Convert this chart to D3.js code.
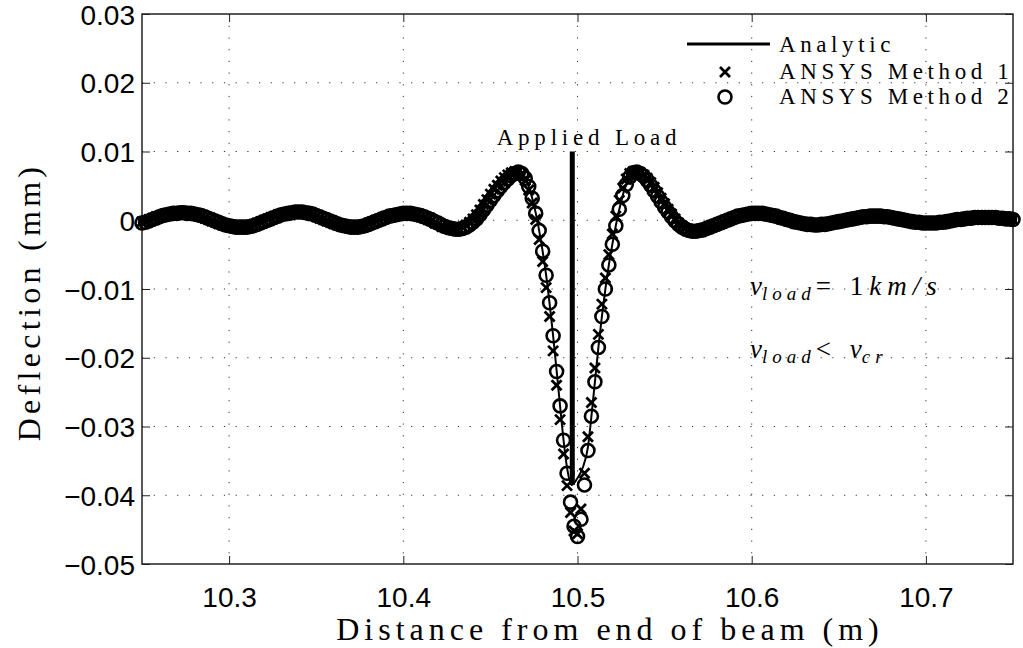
<!DOCTYPE html>
<html>
<head>
<meta charset="utf-8">
<script src="https://cdn.jsdelivr.net/npm/d3@7"></script>
<style>
  body { margin: 0; background: #fff; }
</style>
</head>
<body>
<div id="chart"></div>
<script>
// deflection samples, in micrometres (1e-3 mm), one every 2 mm along the beam
const sampleStart = 10.25;
const sampleStep = 0.002;

const method1 = [
  -0.2, -0.1, 0.1, 0.3, 0.5, 0.6, 0.8, 0.9, 1.0, 1.1,
  1.1, 1.1, 1.1, 1.0, 0.9, 0.8, 0.7, 0.5, 0.3, 0.1,
  -0.1, -0.3, -0.5, -0.7, -0.8, -0.9, -1.0, -1.0, -1.0, -0.9,
  -0.9, -0.8, -0.6, -0.4, -0.2, 0.0, 0.2, 0.4, 0.6, 0.8,
  0.9, 1.0, 1.1, 1.2, 1.2, 1.2, 1.1, 1.0, 0.9, 0.7,
  0.5, 0.3, 0.1, -0.1, -0.3, -0.5, -0.7, -0.8, -0.9, -1.0,
  -1.0, -1.0, -0.9, -0.8, -0.6, -0.4, -0.2, 0.0, 0.2, 0.4,
  0.6, 0.7, 0.8, 0.9, 1.0, 1.0, 1.0, 0.9, 0.8, 0.7,
  0.5, 0.3, 0.1, -0.1, -0.4, -0.6, -0.9, -1.1, -1.2, -1.3,
  -1.3, -1.2, -1.0, -0.7, -0.3, 0.2, 0.8, 1.5, 2.3, 3.0,
  3.8, 4.5, 5.1, 5.7, 6.2, 6.6, 6.9, 7.1, 7.1, 6.7,
  5.8, 4.4, 2.5, 0.1, -2.8, -6.0, -9.8, -14.0, -19.0, -24.0,
  -29.0, -34.0, -38.6, -42.5, -45.2, -45.6, -42.0, -36.8, -31.5, -26.5,
  -21.5, -16.6, -12.2, -8.4, -5.0, -2.0, 0.6, 2.9, 4.7, 6.0,
  6.8, 7.1, 7.1, 6.9, 6.6, 6.1, 5.5, 4.8, 4.0, 3.2,
  2.4, 1.6, 0.9, 0.2, -0.4, -0.8, -1.2, -1.4, -1.5, -1.6,
  -1.5, -1.4, -1.3, -1.1, -0.9, -0.7, -0.5, -0.3, -0.1, 0.1,
  0.3, 0.5, 0.6, 0.8, 0.9, 0.9, 1.0, 1.0, 0.9, 0.9,
  0.8, 0.6, 0.5, 0.4, 0.2, 0.1, -0.1, -0.2, -0.3, -0.4,
  -0.5, -0.6, -0.6, -0.7, -0.6, -0.6, -0.5, -0.5, -0.4, -0.3,
  -0.2, -0.1, 0.0, 0.1, 0.2, 0.3, 0.4, 0.4, 0.5, 0.5,
  0.6, 0.6, 0.5, 0.5, 0.4, 0.4, 0.3, 0.2, 0.1, 0.0,
  -0.1, -0.2, -0.2, -0.3, -0.3, -0.4, -0.4, -0.3, -0.3, -0.3,
  -0.2, -0.1, -0.1, 0.0, 0.1, 0.2, 0.2, 0.3, 0.3, 0.3,
  0.4, 0.4, 0.4, 0.4, 0.4, 0.3, 0.3, 0.3, 0.2, 0.2,
  0.1
];

const method2 = [
  -0.4, -0.3, -0.1, 0.1, 0.3, 0.5, 0.7, 0.8, 0.9, 1.0,
  1.0, 1.1, 1.1, 1.0, 1.0, 0.9, 0.8, 0.7, 0.5, 0.3,
  0.1, -0.1, -0.3, -0.5, -0.7, -0.8, -0.9, -1.0, -1.0, -1.0,
  -1.0, -0.9, -0.8, -0.6, -0.4, -0.2, 0.0, 0.2, 0.4, 0.6,
  0.8, 0.9, 1.0, 1.1, 1.2, 1.2, 1.2, 1.1, 1.0, 0.9,
  0.7, 0.5, 0.3, 0.1, -0.1, -0.3, -0.5, -0.7, -0.8, -0.9,
  -1.0, -1.0, -1.0, -0.9, -0.8, -0.6, -0.4, -0.2, 0.0, 0.2,
  0.4, 0.6, 0.7, 0.8, 0.9, 1.0, 1.0, 1.0, 0.9, 0.8,
  0.7, 0.5, 0.3, 0.1, -0.2, -0.4, -0.7, -0.9, -1.1, -1.2,
  -1.3, -1.3, -1.2, -1.0, -0.7, -0.3, 0.2, 0.8, 1.5, 2.2,
  2.9, 3.6, 4.3, 4.9, 5.5, 6.0, 6.5, 6.8, 7.0, 6.8,
  6.1, 4.9, 3.2, 1.0, -1.5, -4.5, -8.0, -12.0, -16.8, -22.0,
  -27.0, -32.0, -36.8, -41.0, -44.5, -46.0, -43.5, -38.5, -33.5, -28.5,
  -23.5, -18.5, -14.0, -10.0, -6.5, -3.5, -0.8, 1.6, 3.6, 5.2,
  6.3, 6.9, 7.0, 6.8, 6.4, 5.8, 5.1, 4.3, 3.5, 2.7,
  1.9, 1.2, 0.5, -0.1, -0.6, -1.0, -1.3, -1.5, -1.6, -1.6,
  -1.5, -1.4, -1.2, -1.0, -0.8, -0.6, -0.4, -0.2, 0.0, 0.2,
  0.4, 0.6, 0.7, 0.8, 0.9, 1.0, 1.0, 1.0, 1.0, 0.9,
  0.8, 0.7, 0.6, 0.4, 0.3, 0.1, 0.0, -0.2, -0.3, -0.4,
  -0.5, -0.6, -0.6, -0.7, -0.7, -0.6, -0.6, -0.5, -0.4, -0.3,
  -0.2, -0.1, 0.0, 0.1, 0.2, 0.3, 0.4, 0.5, 0.5, 0.6,
  0.6, 0.6, 0.6, 0.5, 0.5, 0.4, 0.3, 0.2, 0.1, 0.0,
  -0.1, -0.2, -0.3, -0.3, -0.4, -0.4, -0.4, -0.4, -0.4, -0.3,
  -0.3, -0.2, -0.1, 0.0, 0.1, 0.1, 0.2, 0.3, 0.3, 0.4,
  0.4, 0.4, 0.4, 0.4, 0.4, 0.4, 0.3, 0.3, 0.2, 0.2,
  0.1
];

// analytic solution (m, micrometres)
const analyticX = [10.25, 10.26, 10.27, 10.28, 10.29, 10.30, 10.31, 10.32, 10.33, 10.34,
  10.35, 10.36, 10.37, 10.38, 10.39, 10.40, 10.41, 10.42, 10.43, 10.435,
  10.44, 10.445, 10.45, 10.455, 10.46, 10.466, 10.47, 10.474, 10.478, 10.482,
  10.486, 10.49, 10.492, 10.494, 10.4967, 10.50, 10.503, 10.506, 10.508, 10.51,
  10.512, 10.514, 10.516, 10.518, 10.52, 10.524, 10.528, 10.534, 10.54, 10.545,
  10.55, 10.56, 10.568, 10.58, 10.59, 10.60, 10.61, 10.62, 10.63, 10.64,
  10.65, 10.66, 10.67, 10.68, 10.69, 10.70, 10.71, 10.72, 10.73, 10.74, 10.75];
const analyticY = [-0.4, 0.5, 1.0, 0.9, 0.1, -0.8, -1.0, -0.2, 0.8, 1.2,
  0.7, -0.3, -1.0, -0.6, 0.4, 1.0, 0.7, -0.4, -1.3, -1.1,
  -0.3, 1.2, 2.9, 4.6, 6.0, 7.0, 6.1, 3.2, -1.5, -8.0,
  -16.8, -27.0, -32.0, -36.0, -38.5, -37.5, -36.0, -33.0, -28.5, -23.5,
  -18.5, -14.0, -10.0, -6.5, -3.5, 1.6, 5.2, 7.0, 5.8, 3.9,
  1.9, -1.0, -1.6, -0.6, 0.4, 1.0, 0.8, 0.1, -0.5, -0.65,
  -0.2, 0.3, 0.6, 0.4, -0.1, -0.4, -0.3, 0.1, 0.4, 0.4, 0.1];

const xTicks = [10.3, 10.4, 10.5, 10.6, 10.7];
const xTickLabels = ["10.3", "10.4", "10.5", "10.6", "10.7"];
const yTicks = [30, 20, 10, 0, -10, -20, -30, -40, -50];
const yTickLabels = ["0.03", "0.02", "0.01", "0", "\u22120.01", "\u22120.02", "\u22120.03", "\u22120.04", "\u22120.05"];

const loadPosition = 10.497;
const loadTop = 10;
const loadBottom = -38.5;

const legendLabels = ["Analytic", "ANSYS Method 1", "ANSYS Method 2"];

const W = 1023, H = 648;
const margin = {top: 14, right: 10, bottom: 84, left: 142};
const serif = "'Liberation Serif', 'DejaVu Serif', 'Times New Roman', serif";
const sans = "'Liberation Sans', Arial, sans-serif";

const svg = d3.select("#chart").append("svg")
    .attr("width", W)
    .attr("height", H);

const x = d3.scaleLinear().domain([10.25, 10.75]).range([margin.left, W - margin.right]);
const y = d3.scaleLinear().domain([-50, 30]).range([H - margin.bottom, margin.top]);

const x0 = x.range()[0], x1 = x.range()[1];
const y0 = y.range()[0], y1 = y.range()[1];

// dotted grid
const grid = svg.append("g")
    .attr("stroke", "#333")
    .attr("stroke-width", 1)
    .attr("stroke-dasharray", "1.2,10.5");

grid.selectAll("line.vg")
    .data(xTicks)
    .enter()
    .append("line")
    .attr("class", "vg")
    .attr("x1", d => x(d)).attr("x2", d => x(d))
    .attr("y1", y1).attr("y2", y0);

grid.selectAll("line.hg")
    .data(yTicks.slice(1, -1))
    .enter()
    .append("line")
    .attr("class", "hg")
    .attr("x1", x0).attr("x2", x1)
    .attr("y1", d => y(d)).attr("y2", d => y(d));

// axes, ticks pointing inward on all four sides
const tickLen = 8;
svg.append("g")
    .attr("transform", `translate(0,${y0})`)
    .call(d3.axisBottom(x).tickValues(xTicks).tickSizeInner(-tickLen).tickSizeOuter(0).tickFormat((d, i) => xTickLabels[i]))
    .call(g => g.select(".domain").remove())
    .call(g => g.selectAll("text")
        .attr("font-family", sans).attr("font-size", 28).attr("fill", "#000")
        .attr("y", 43).attr("dy", null));

svg.append("g")
    .attr("transform", `translate(0,${y1})`)
    .call(d3.axisTop(x).tickValues(xTicks).tickSizeInner(-tickLen).tickSizeOuter(0).tickFormat(""))
    .call(g => g.select(".domain").remove());

svg.append("g")
    .attr("transform", `translate(${x0},0)`)
    .call(d3.axisLeft(y).tickValues(yTicks).tickSizeInner(-tickLen).tickSizeOuter(0).tickFormat((d, i) => yTickLabels[i]))
    .call(g => g.select(".domain").remove())
    .call(g => g.selectAll("text")
        .attr("font-family", sans).attr("font-size", 28).attr("fill", "#000")
        .attr("x", -7).attr("dy", "0.36em"));

svg.append("g")
    .attr("transform", `translate(${x1},0)`)
    .call(d3.axisRight(y).tickValues(yTicks).tickSizeInner(-tickLen).tickSizeOuter(0).tickFormat(""))
    .call(g => g.select(".domain").remove());

svg.selectAll(".tick line").attr("stroke", "#222").attr("stroke-width", 1);

svg.append("rect")
    .attr("x", x0).attr("y", y1)
    .attr("width", x1 - x0).attr("height", y0 - y1)
    .attr("fill", "none")
    .attr("stroke", "#222")
    .attr("stroke-width", 1.5);

// plot layers
const plot = svg.append("g");

const analytic = analyticX.map((d, i) => [d, analyticY[i]]);
plot.append("path")
    .datum(analytic)
    .attr("fill", "none")
    .attr("stroke", "#000")
    .attr("stroke-width", 2)
    .attr("d", d3.line().x(d => x(d[0])).y(d => y(d[1])).curve(d3.curveMonotoneX));

const crossPath = "M-5,-5L5,5M-5,5L5,-5";

plot.selectAll("path.m1")
    .data(method1)
    .enter()
    .append("path")
    .attr("class", "m1")
    .attr("d", crossPath)
    .attr("transform", (d, i) => `translate(${x(sampleStart + i * sampleStep)},${y(d)})`)
    .attr("fill", "none")
    .attr("stroke", "#000")
    .attr("stroke-width", 2.8);

plot.selectAll("circle.m2")
    .data(method2)
    .enter()
    .append("circle")
    .attr("class", "m2")
    .attr("cx", (d, i) => x(sampleStart + i * sampleStep))
    .attr("cy", d => y(d))
    .attr("r", 6.5)
    .attr("fill", "none")
    .attr("stroke", "#000")
    .attr("stroke-width", 2.6);

// applied load
plot.append("line")
    .attr("x1", x(loadPosition)).attr("x2", x(loadPosition))
    .attr("y1", y(loadTop)).attr("y2", y(loadBottom))
    .attr("stroke", "#000")
    .attr("stroke-width", 5);

svg.append("text")
    .attr("font-family", serif)
    .attr("x", 589).attr("y", 145)
    .attr("text-anchor", "middle")
    .attr("font-size", 23)
    .attr("letter-spacing", 4.8)
    .text("Applied Load");

// legend
const legend = svg.append("g");
const legendRows = [44, 72, 97];
const legendText = [52, 79, 104];

legend.append("line")
    .attr("x1", 687).attr("x2", 770)
    .attr("y1", legendRows[0]).attr("y2", legendRows[0])
    .attr("stroke", "#000").attr("stroke-width", 3);

legend.append("path")
    .attr("d", crossPath)
    .attr("transform", `translate(725,${legendRows[1]})`)
    .attr("fill", "none").attr("stroke", "#000").attr("stroke-width", 2.8);

legend.append("circle")
    .attr("cx", 725).attr("cy", legendRows[2]).attr("r", 6.5)
    .attr("fill", "none").attr("stroke", "#000").attr("stroke-width", 2.6);

legend.selectAll("text")
    .data(legendLabels)
    .enter()
    .append("text")
    .attr("font-family", serif)
    .attr("x", 779)
    .attr("y", (d, i) => legendText[i])
    .attr("font-size", 23)
    .attr("letter-spacing", 4.6)
    .text(d => d);

// speed annotations
const note1 = svg.append("text").attr("font-family", serif).attr("x", 750).attr("y", 295).attr("font-size", 27);
note1.append("tspan").attr("font-style", "italic").text("v");
note1.append("tspan").attr("font-style", "italic").attr("font-size", 19).attr("dy", 5).attr("letter-spacing", 5).text("load");
note1.append("tspan").attr("dy", -5).attr("letter-spacing", 6).text("= 1");
note1.append("tspan").attr("font-style", "italic").attr("letter-spacing", 6).text("km/s");

const note2 = svg.append("text").attr("font-family", serif).attr("x", 750).attr("y", 358).attr("font-size", 27);
note2.append("tspan").attr("font-style", "italic").text("v");
note2.append("tspan").attr("font-style", "italic").attr("font-size", 19).attr("dy", 5).attr("letter-spacing", 5).text("load");
note2.append("tspan").attr("dy", -5).attr("letter-spacing", 6).text("< ");
note2.append("tspan").attr("font-style", "italic").text("v");
note2.append("tspan").attr("font-style", "italic").attr("font-size", 19).attr("dy", 5).attr("letter-spacing", 5).text("cr");

// axis titles
svg.append("text")
    .attr("font-family", serif)
    .attr("x", 610).attr("y", 640)
    .attr("text-anchor", "middle")
    .attr("font-size", 32)
    .attr("letter-spacing", 5)
    .text("Distance from end of beam (m)");

svg.append("text")
    .attr("font-family", serif)
    .attr("transform", "translate(40,302) rotate(-90)")
    .attr("text-anchor", "middle")
    .attr("font-size", 32)
    .attr("letter-spacing", 4.3)
    .text("Deflection (mm)");
</script>
</body>
</html>
